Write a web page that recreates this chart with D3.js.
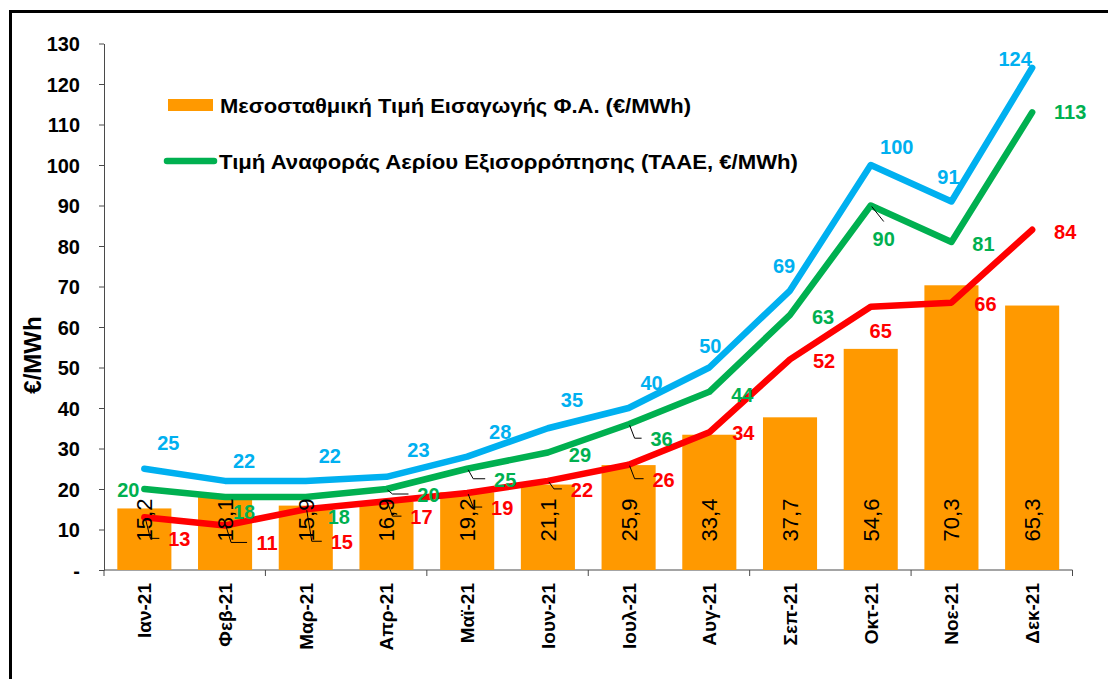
<!DOCTYPE html>
<html lang="el">
<head>
<meta charset="UTF-8">
<title>Τιμές φυσικού αερίου 2021</title>
<style>
    body { margin: 0; padding: 0; background: #ffffff; overflow: hidden; }
    svg text { font-family: "Liberation Sans", Arial, sans-serif; }
    .axis path, .axis line { stroke: #4a4a4a; stroke-width: 1px; }
    .axis text { font-size: 20px; font-weight: bold; fill: #000; }
</style>
</head>
<body>
<svg id="chart" width="1108" height="679"></svg>

<script src="https://d3js.org/d3.v7.min.js"></script>
<script>
    // data
    const months = ["Ιαν-21", "Φεβ-21", "Μαρ-21", "Απρ-21", "Μαϊ-21", "Ιουν-21",
                    "Ιουλ-21", "Αυγ-21", "Σεπ-21", "Οκτ-21", "Νοε-21", "Δεκ-21"];
    const yTicks = [0, 10, 20, 30, 40, 50, 60, 70, 80, 90, 100, 110, 120, 130];
    const importPrice = [15.2, 18.1, 15.9, 16.9, 19.2, 21.1, 25.9, 33.4, 37.7, 54.6, 70.3, 65.3];
    const blueSeries = [25, 22, 22, 23, 28, 35, 40, 50, 69, 100, 91, 124];
    const taae = [20, 18, 18, 20, 25, 29, 36, 44, 63, 90, 81, 113];
    const redSeries = [13, 11, 15, 17, 19, 22, 26, 34, 52, 65, 66, 84];
    const legendLabels = [
        "Μεσοσταθμική Τιμή Εισαγωγής Φ.Α. (€/MWh)",
        "Τιμή Αναφοράς Αερίου Εξισορρόπησης (ΤΑΑΕ, €/MWh)"
    ];
    const yTitle = "€/MWh";

    // label placement (dx, dy from each point) - labels were moved by hand in the original
    const blueNudge = [[24,-26],[19,-20],[24,-25],[32,-27],[33,-25],[24,-28],[23,-25],[1,-22],[-6,-25],[26,-18],[-3,-24],[-17,-9]];
    const greenNudge = [[-16,1],[19,15],[33,20],[42,6],[38,11],[32,2],[33,15],[33,3],[33,2],[13,33],[32,2],[38,0]];
    const redNudge = [[35,22],[42,18],[36,33],[35,16],[35,15],[34,9],[35,15],[34,1],[34,2],[10,24],[34,1],[33,2]];
    const greenLeaders = [3, 4, 6, 9];
    const redLeaders = [0, 1, 2, 3, 4, 5, 6];

    const colors = { bar: "#FF9900", blue: "#00B0F0", green: "#00B050", red: "#FF0000" };

    const svg = d3.select("#chart");

    // outer frame
    svg.append("rect")
        .attr("x", 10.5).attr("y", 11.5)
        .attr("width", 1200).attr("height", 800)
        .attr("fill", "none").attr("stroke", "#000").attr("stroke-width", 3);

    const x = d3.scaleBand().domain(months).range([104, 1072.5]).padding(0);
    const y = d3.scaleLinear().domain([0, 130]).range([570, 43.5]);
    const bw = x.bandwidth();
    const cx = i => x(months[i]) + bw / 2;

    // y axis
    const yAxis = svg.append("g")
        .attr("class", "axis")
        .attr("transform", "translate(104,0)")
        .call(d3.axisLeft(y)
            .tickValues(yTicks)
            .tickSize(5)
            .tickSizeOuter(0)
            .tickPadding(19)
            .tickFormat(d => d === 0 ? "-" : d));
    yAxis.selectAll("text").attr("dy", "0.35em");

    // x axis line + ticks every second month boundary
    svg.append("line")
        .attr("x1", x.range()[0]).attr("x2", x.range()[1])
        .attr("y1", y(0)).attr("y2", y(0))
        .attr("stroke", "#4a4a4a");
    const boundaries = d3.range(0, months.length + 1, 2)
        .map(i => i < months.length ? x(months[i]) : x.range()[1]);
    svg.selectAll(".xtick").data(boundaries).enter()
        .append("line")
        .attr("class", "xtick")
        .attr("x1", d => d).attr("x2", d => d)
        .attr("y1", y(0)).attr("y2", y(0) + 6)
        .attr("stroke", "#4a4a4a");

    svg.selectAll(".xlabel").data(months).enter()
        .append("text")
        .attr("class", "xlabel")
        .attr("transform", (d, i) => `translate(${cx(i) + 7},583) rotate(-90)`)
        .attr("text-anchor", "end")
        .attr("font-size", 19)
        .attr("font-weight", "bold")
        .text(d => d);

    // axis title
    svg.append("text")
        .attr("transform", "translate(41,355) rotate(-90)")
        .attr("text-anchor", "middle")
        .attr("font-size", 24)
        .attr("font-weight", "bold")
        .text(yTitle);

    // bars
    const barW = bw * 0.67;
    svg.selectAll(".bar").data(importPrice).enter()
        .append("rect")
        .attr("class", "bar")
        .attr("x", (d, i) => cx(i) - barW / 2)
        .attr("y", d => y(d))
        .attr("width", barW)
        .attr("height", d => y(0) - y(d))
        .attr("fill", colors.bar);

    // lines
    const line = d3.line().x((d, i) => cx(i)).y(d => y(d));
    const seriesList = [
        { values: redSeries, color: colors.red, nudge: redNudge, leaders: redLeaders },
        { values: taae, color: colors.green, nudge: greenNudge, leaders: greenLeaders },
        { values: blueSeries, color: colors.blue, nudge: blueNudge, leaders: [] }
    ];
    seriesList.forEach(s => {
        svg.append("path")
            .datum(s.values)
            .attr("d", line)
            .attr("fill", "none")
            .attr("stroke", s.color)
            .attr("stroke-width", 6.5)
            .attr("stroke-linejoin", "round")
            .attr("stroke-linecap", "round");
    });

    // leader lines for labels moved away from their points
    seriesList.forEach(s => {
        s.leaders.forEach(i => {
            const px = cx(i), py = y(s.values[i]);
            const lx = px + s.nudge[i][0], ly = py + s.nudge[i][1];
            let d;
            if (lx - 20 > px + 8) {
                d = `M${px + 1},${py + 1}L${px + 6},${ly - 1}L${lx - 20},${ly - 1}`;
            } else {
                d = `M${px + 1},${py + 1}L${lx},${ly - 17}`;
            }
            svg.append("path")
                .attr("d", d)
                .attr("fill", "none")
                .attr("stroke", "#000")
                .attr("stroke-width", 1);
        });
    });

    // bar value labels
    const fmt = d3.format(".1f");
    svg.selectAll(".barlabel").data(importPrice).enter()
        .append("text")
        .attr("class", "barlabel")
        .attr("transform", (d, i) => `translate(${cx(i) + 8},520) rotate(-90)`)
        .attr("text-anchor", "middle")
        .attr("font-size", 22)
        .attr("fill", "#000")
        .text(d => fmt(d).replace(".", ","));

    // series value labels
    seriesList.forEach(s => {
        svg.selectAll(null).data(s.values).enter()
            .append("text")
            .attr("x", (d, i) => cx(i) + s.nudge[i][0])
            .attr("y", (d, i) => y(d) + s.nudge[i][1])
            .attr("dy", "0.35em")
            .attr("text-anchor", "middle")
            .attr("font-size", 20)
            .attr("font-weight", "bold")
            .attr("fill", s.color)
            .text(d => d);
    });

    // legend
    const legend = svg.append("g");
    legend.append("rect")
        .attr("x", 168).attr("y", 99)
        .attr("width", 45).attr("height", 12)
        .attr("fill", colors.bar);
    legend.append("text")
        .attr("x", 220).attr("y", 112.5)
        .attr("font-size", 20)
        .attr("font-weight", "bold")
        .attr("textLength", 471)
        .attr("lengthAdjust", "spacingAndGlyphs")
        .text(legendLabels[0]);
    legend.append("line")
        .attr("x1", 167).attr("x2", 214)
        .attr("y1", 161).attr("y2", 161)
        .attr("stroke", colors.green)
        .attr("stroke-width", 6.5)
        .attr("stroke-linecap", "round");
    legend.append("text")
        .attr("x", 219).attr("y", 168.5)
        .attr("font-size", 20)
        .attr("font-weight", "bold")
        .attr("textLength", 579)
        .attr("lengthAdjust", "spacingAndGlyphs")
        .text(legendLabels[1]);
</script>
</body>
</html>
